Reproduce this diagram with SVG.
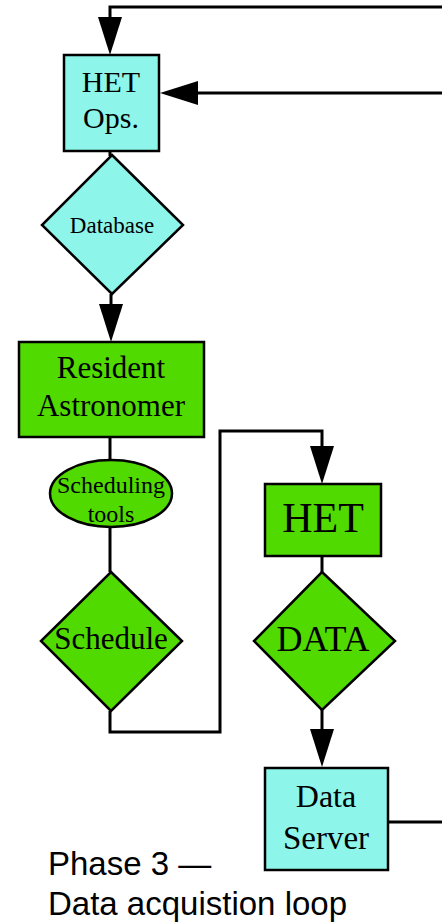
<svg xmlns="http://www.w3.org/2000/svg" width="442" height="924" viewBox="0 0 442 924">
<style>
.cy{fill:#8ef5ea;stroke:#000;stroke-width:2.5}
.gr{fill:#50da00;stroke:#000;stroke-width:2.5}
.t{font-family:"Liberation Serif","Times New Roman",serif;fill:#000;text-anchor:middle}
.c{fill:none;stroke:#000;stroke-width:3}
.lbl{font-family:"Liberation Sans",Arial,sans-serif;font-size:33px;fill:#000}
</style>
<defs>
<marker id="ah" markerUnits="userSpaceOnUse" markerWidth="38" markerHeight="24" viewBox="0 0 38 24" refX="0" refY="12" orient="auto" overflow="visible">
<path d="M0,0 L38,12 L0,24 Z" fill="#000"/>
</marker>
</defs>
<g id="connectors">
<polyline class="c" points="442,7 110,7 110,17" marker-end="url(#ah)"/>
<polyline class="c" points="442,93 198,93" marker-end="url(#ah)"/>
<line class="c" x1="110" y1="151" x2="110" y2="156"/>
<polyline class="c" points="111,294 111,304" marker-end="url(#ah)"/>
<line class="c" x1="110" y1="437" x2="110" y2="460"/>
<line class="c" x1="110" y1="527" x2="110" y2="572"/>
<polyline class="c" points="110,711 110,732 220,732 220,431 322,431 322,446" marker-end="url(#ah)"/>
<line class="c" x1="322" y1="556" x2="322" y2="572"/>
<polyline class="c" points="322,710 322,729" marker-end="url(#ah)"/>
<polyline class="c" points="388,822 442,822"/>
</g>
<g id="het-ops">
<rect class="cy" x="64" y="55" width="95" height="96"/>
<text class="t" x="111" y="92" font-size="30">HET</text>
<text class="t" x="111" y="128" font-size="30">Ops.</text>
</g>
<g id="database">
<polygon class="cy" points="112,155 183,225 112,294 42,225"/>
<text class="t" x="112" y="233" font-size="23">Database</text>
</g>
<g id="resident-astronomer">
<rect class="gr" x="19" y="342" width="185" height="95"/>
<text class="t" x="111" y="378" font-size="31">Resident</text>
<text class="t" x="111" y="416" font-size="31">Astronomer</text>
</g>
<g id="scheduling-tools">
<ellipse class="gr" cx="111" cy="493.5" rx="61" ry="33.5"/>
<text class="t" x="111" y="493" font-size="24">Scheduling</text>
<text class="t" x="111" y="522" font-size="24">tools</text>
</g>
<g id="schedule">
<polygon class="gr" points="111,572 182,641 111,711 41,641"/>
<text class="t" x="111" y="649" font-size="31">Schedule</text>
</g>
<g id="het">
<rect class="gr" x="265" y="484" width="116" height="72"/>
<text class="t" x="323" y="532" font-size="42">HET</text>
</g>
<g id="data">
<polygon class="gr" points="322,572 395,641 322,710 254,641"/>
<text class="t" x="323" y="651" font-size="36">DATA</text>
</g>
<g id="data-server">
<rect class="cy" x="265" y="768" width="123" height="102"/>
<text class="t" x="326" y="807" font-size="32">Data</text>
<text class="t" x="326" y="849" font-size="33">Server</text>
</g>
<g id="caption">
<text class="lbl" x="48" y="875">Phase 3 —</text>
<text class="lbl" x="48" y="915">Data acquistion loop</text>
</g>
</svg>
